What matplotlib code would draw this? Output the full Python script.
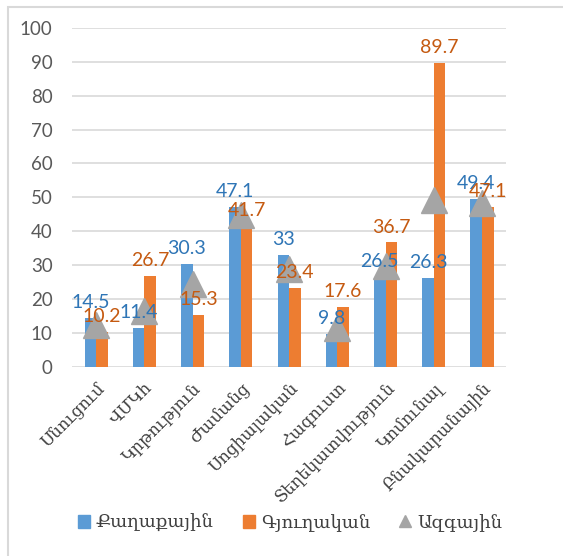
import numpy as np
import matplotlib.pyplot as plt
from matplotlib.patches import Rectangle
from matplotlib.lines import Line2D
from matplotlib.patches import Patch

# data
categories = ["Սնուցում", "ՎՄԿհ", "Կրթություն", "Ժամանց", "Սոցիալական",
              "Հագուստ", "Տեղեկատվություն", "Կոմունալ", "Բնակարանային"]
urban = [14.5, 11.4, 30.3, 47.1, 33, 9.8, 26.5, 26.3, 49.4]
rural = [10.2, 26.7, 15.3, 41.7, 23.4, 17.6, 36.7, 89.7, 47.1]
national = [12.4, 16.5, 24.5, 44.8, 29.0, 11.6, 29.8, 49.3, 48.2]
series_names = ["Քաղաքային", "Գյուղական", "Ազգային"]

blue = "#5B9BD5"
orange = "#ED7D31"
gray = "#A5A5A5"
num_font = ["Lato", "DejaVu Sans"]
arm_font = ["DejaVu Serif", "DejaVu Sans"]

fig = plt.figure(figsize=(5.63, 5.56), dpi=100)
ax = fig.add_axes([0.128, 0.34, 0.771, 0.61])

x = np.arange(len(categories))
w = 0.24
ax.bar(x - w / 2, urban, w, color=blue, zorder=2)
ax.bar(x + w / 2, rural, w, color=orange, zorder=2)
ax.plot(x, national, linestyle="none", marker="^", markersize=19,
        color=gray, zorder=3)

# data labels
for i in range(len(x)):
    ax.annotate(f"{urban[i]:g}", (x[i] - w / 2, urban[i]), xytext=(0, 5),
                textcoords="offset points", ha="center", va="bottom",
                color="#2E75B6", fontsize=14, family=num_font, zorder=4)
    ax.annotate(f"{rural[i]:g}", (x[i] + w / 2, rural[i]), xytext=(0, 5),
                textcoords="offset points", ha="center", va="bottom",
                color="#C55A11", fontsize=14, family=num_font, zorder=4)

ax.set_xlim(-0.5, len(categories) - 0.5)
ax.set_ylim(0, 100)
ax.set_yticks(np.arange(0, 101, 10))
ax.yaxis.grid(True, color="#D9D9D9", linewidth=1.2, zorder=0)
ax.set_axisbelow(True)
for s in ax.spines.values():
    s.set_visible(False)
ax.tick_params(axis="both", length=0)
ax.tick_params(axis="y", pad=14, labelcolor="#595959", labelsize=13.5)
for t in ax.get_yticklabels():
    t.set_family(num_font)

ax.set_xticks(x)
ax.set_xticklabels(categories, rotation=45, ha="right", rotation_mode="anchor",
                   fontsize=12, color="#404040", family=arm_font)
ax.tick_params(axis="x", pad=9)

handles = [Patch(color=blue), Patch(color=orange),
           Line2D([], [], linestyle="none", marker="^", markersize=9, color=gray)]
leg = fig.legend(handles, series_names, loc="center", bbox_to_anchor=(0.515, 0.06),
                 ncol=3, frameon=False, handlelength=0.7, handleheight=0.7,
                 handletextpad=0.3, columnspacing=1.6,
                 prop={"family": arm_font, "size": 13})
for t in leg.get_texts():
    t.set_color("#404040")

# outer frame of the chart area
fig.patches.append(Rectangle((8 / 563, -0.05), 1.2, 1 - 7 / 556 + 0.05,
                             transform=fig.transFigure, fill=False,
                             edgecolor="#D9D9D9", linewidth=1.5))

fig.savefig("out.png", dpi=100)
